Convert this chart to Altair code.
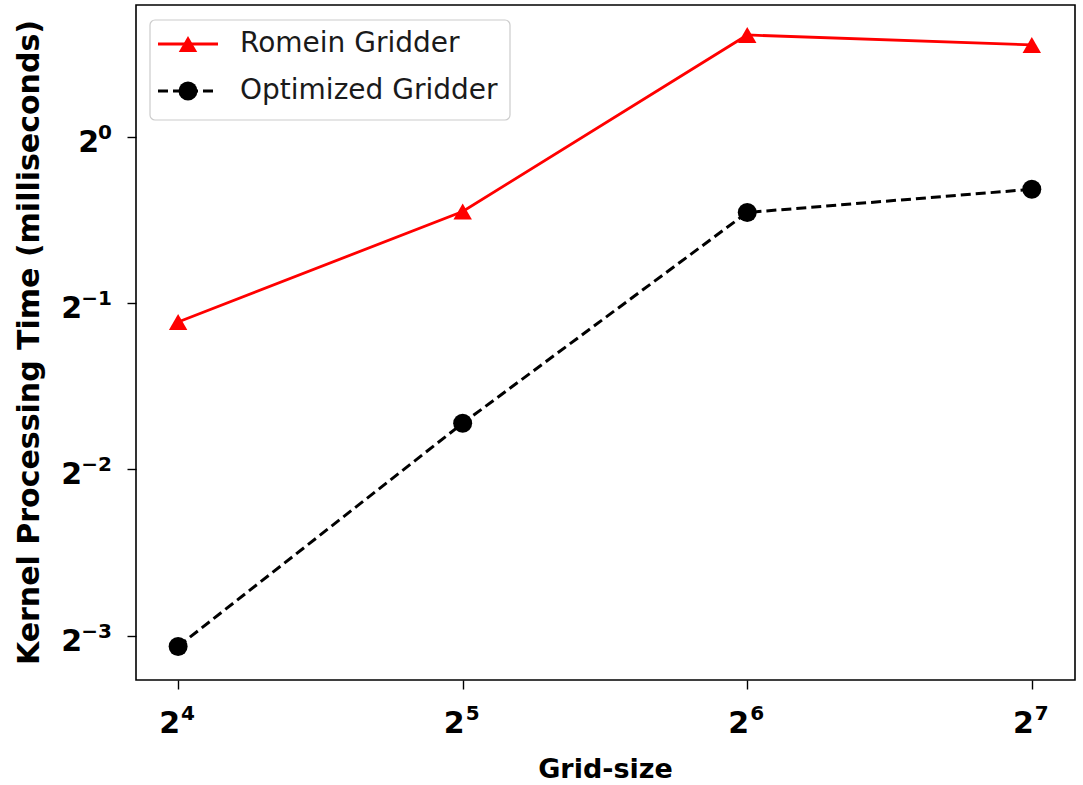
import altair as alt
import pandas as pd

grid_sizes = [16, 32, 64, 128]
romein_ms = [0.462, 0.732, 1.527, 1.465]
optimized_ms = [0.1196, 0.303, 0.729, 0.803]
series_names = ["Romein Gridder", "Optimized Gridder"]

x_ticks = [16, 32, 64, 128]
x_tick_exps = ["4", "5", "6", "7"]
y_ticks = [0.125, 0.25, 0.5, 1]
y_tick_exps = ["\u22123", "\u22122", "\u22121", "0"]
x_title = "Grid-size"
y_title = "Kernel Processing Time (milliseconds)"

W, H = 939, 675
FONT = "DejaVu Sans"
BASE_FS = 30
EXP_FS = 20

xscale = alt.Scale(type="log", base=2, domain=[14.44, 142.2], nice=False)
yscale = alt.Scale(type="log", base=2, domain=[0.104, 1.73], nice=False)

xenc = alt.X("grid:Q", scale=xscale, title=None,
             axis=alt.Axis(values=x_ticks, labels=False, grid=False, domain=False,
                           tickColor="black", tickSize=9, tickWidth=1.4))
yenc = alt.Y("time:Q", scale=yscale, title=None,
             axis=alt.Axis(values=y_ticks, labels=False, grid=False, domain=False,
                           tickColor="black", tickSize=9, tickWidth=1.4))

rom = pd.DataFrame({"grid": grid_sizes, "time": romein_ms})
opt = pd.DataFrame({"grid": grid_sizes, "time": optimized_ms})

X = alt.X("grid:Q", scale=xscale)
Y = alt.Y("time:Q", scale=yscale)

rom_line = alt.Chart(rom).mark_line(color="red", strokeWidth=2.8).encode(x=xenc, y=yenc)
rom_pts = alt.Chart(rom).mark_point(shape="triangle-up", filled=True, color="red", size=340, opacity=1).encode(x=X, y=Y)
opt_line = alt.Chart(opt).mark_line(color="black", strokeWidth=3.0, strokeDash=[10, 5]).encode(x=X, y=Y)
opt_pts = alt.Chart(opt).mark_point(shape="circle", filled=True, color="black", size=360, opacity=1).encode(x=X, y=Y)

# x tick labels: base "2" + superscript exponent
xlab = pd.DataFrame({"grid": x_ticks, "base": ["2"] * 4, "exp": x_tick_exps})
x_base = alt.Chart(xlab).mark_text(align="right", baseline="alphabetic", font=FONT, fontSize=BASE_FS,
                                   fontWeight="bold", color="black", dx=2).encode(
    x=X, y=alt.value(H + 53), text="base:N")
x_exp = alt.Chart(xlab).mark_text(align="left", baseline="alphabetic", font=FONT, fontSize=EXP_FS,
                                  fontWeight="bold", color="black", dx=3).encode(
    x=X, y=alt.value(H + 40), text="exp:N")

# y tick labels (right-aligned as a whole)
ylayers = []
for v, e in zip(y_ticks, y_tick_exps):
    d = pd.DataFrame({"time": [v], "base": ["2"], "exp": [e]})
    exp_w = 12 * len(e.replace("\u2212", "")) + (17 if "\u2212" in e else 0)
    ylayers.append(alt.Chart(d).mark_text(align="right", baseline="alphabetic", font=FONT, fontSize=EXP_FS,
                                          fontWeight="bold", color="black", dy=2).encode(
        x=alt.value(-24), y=Y, text="exp:N"))
    ylayers.append(alt.Chart(d).mark_text(align="right", baseline="alphabetic", font=FONT, fontSize=BASE_FS,
                                          fontWeight="bold", color="black", dy=15).encode(
        x=alt.value(-25 - exp_w), y=Y, text="base:N"))

tdf = pd.DataFrame({"dummy": [0]})
x_t = alt.Chart(tdf).mark_text(text=x_title, align="center", baseline="alphabetic", font=FONT, fontSize=27,
                               fontWeight="bold", color="black").encode(x=alt.value(W / 2), y=alt.value(H + 98))
y_t = alt.Chart(tdf).mark_text(text=y_title, align="center", baseline="middle", font=FONT, fontSize=30,
                               fontWeight="bold", color="black", angle=270).encode(x=alt.value(-106), y=alt.value(H / 2))

# legend
leg_box = alt.Chart(tdf).mark_rect(fill="white", stroke="#cccccc", strokeWidth=1.2, cornerRadius=5).encode(
    x=alt.value(14), x2=alt.value(374), y=alt.value(15), y2=alt.value(115))
leg_l1 = alt.Chart(tdf).mark_rule(color="red", strokeWidth=2.8).encode(
    x=alt.value(22), x2=alt.value(82), y=alt.value(39))
leg_p1 = alt.Chart(tdf).mark_point(shape="triangle-up", filled=True, color="red", size=340, opacity=1).encode(
    x=alt.value(52), y=alt.value(39))
leg_l2 = alt.Chart(tdf).mark_rule(color="black", strokeWidth=3.0, strokeDash=[10, 5]).encode(
    x=alt.value(22), x2=alt.value(82), y=alt.value(86))
leg_p2 = alt.Chart(tdf).mark_point(shape="circle", filled=True, color="black", size=360, opacity=1).encode(
    x=alt.value(52), y=alt.value(86))
leg_t1 = alt.Chart(tdf).mark_text(text=series_names[0], align="left", baseline="middle", font=FONT,
                                  fontSize=28, color="#1a1a1a").encode(x=alt.value(104), y=alt.value(39))
leg_t2 = alt.Chart(tdf).mark_text(text=series_names[1], align="left", baseline="middle", font=FONT,
                                  fontSize=28, color="#1a1a1a").encode(x=alt.value(104), y=alt.value(86))

chart = alt.layer(rom_line, opt_line, rom_pts, opt_pts, x_base, x_exp, *ylayers, x_t, y_t,
                  leg_box, leg_l1, leg_p1, leg_l2, leg_p2, leg_t1, leg_t2).properties(
    width=W, height=H,
    background="white",
    autosize=alt.AutoSizeParams(type="none"),
    padding={"left": 136, "top": 5, "right": 8, "bottom": 105},
).configure_view(stroke="black", strokeWidth=1.6)

chart.save("out.html", embed_options={"renderer": "svg", "actions": False})
